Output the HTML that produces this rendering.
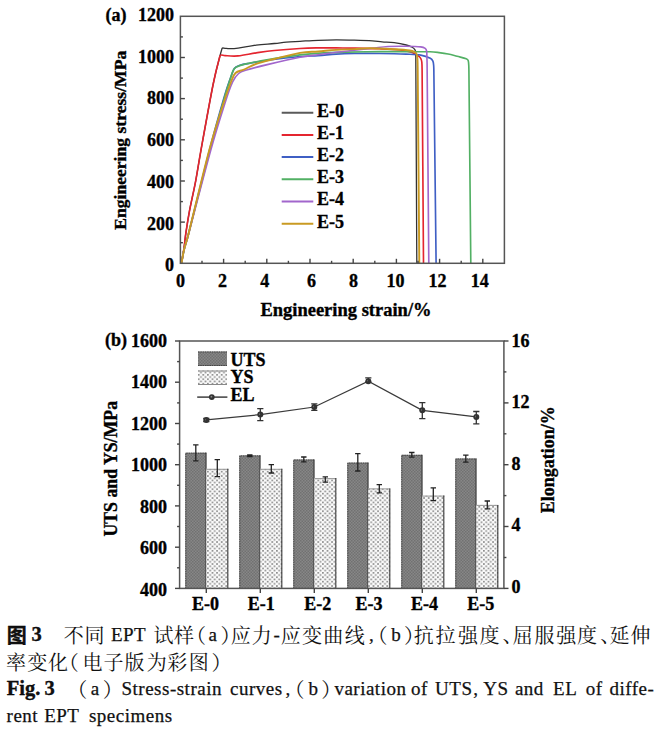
<!DOCTYPE html>
<html><head><meta charset="utf-8"><title>Fig. 3</title>
<style>
html,body{margin:0;padding:0;background:#fff;}
body{width:663px;height:732px;position:relative;overflow:hidden;}
svg{display:block;overflow:hidden;}
svg text[font-weight="bold"]{stroke:#000;stroke-width:0.35px;}
</style></head><body>
<svg width="663" height="616" viewBox="0 0 663 616" style="position:absolute;left:0;top:0">
<defs>
<pattern id="uts" width="3" height="3" patternUnits="userSpaceOnUse"><rect width="3" height="3" fill="#878787"/><rect x="0" y="0" width="1.5" height="1.5" fill="#717171"/><rect x="1.5" y="1.5" width="1.5" height="1.5" fill="#717171"/></pattern>
<pattern id="ys" width="4.6" height="4.4" patternUnits="userSpaceOnUse"><rect width="4.6" height="4.4" fill="#fbfbfb"/><rect x="0" y="0" width="1.75" height="1.65" fill="#8e8e8e"/><rect x="2.3" y="2.2" width="1.75" height="1.65" fill="#8e8e8e"/></pattern>
</defs>
<path d="M181.50 263.30 C181.95 260.55 183.19 253.60 184.00 248.00 C184.81 242.40 185.01 238.88 186.00 232.20 C186.99 225.52 187.75 220.15 189.50 210.90 C191.25 201.65 193.63 191.76 195.70 180.80 C197.77 169.84 198.50 163.84 201.00 150.00 C204.11 132.76 209.62 101.83 213.00 85.00 C215.60 72.07 218.25 62.80 219.80 56.50 C220.52 53.55 221.13 51.51 221.60 50.00 C221.87 49.11 221.79 48.41 222.40 48.10 C223.01 47.79 223.83 48.20 225.00 48.30 C226.31 48.41 227.58 48.73 229.70 48.70 C232.06 48.66 234.34 48.61 238.10 48.10 C242.87 47.45 249.68 45.93 256.20 45.10 C262.72 44.27 268.88 44.04 274.30 43.50 C279.71 42.96 281.67 42.50 286.30 42.10 C290.93 41.70 294.28 41.62 300.00 41.30 C305.72 40.98 311.58 40.55 318.10 40.30 C324.62 40.05 329.68 39.92 336.20 39.90 C342.72 39.88 347.78 40.02 354.30 40.20 C360.82 40.38 367.40 40.59 372.40 40.90 C376.78 41.17 378.19 41.58 382.10 41.90 C386.01 42.22 389.76 42.14 394.10 42.70 C398.44 43.26 402.94 44.17 406.20 45.00 C409.00 45.71 410.62 46.42 412.20 47.30 C413.70 48.14 414.37 48.87 415.00 49.90 C415.63 50.93 415.59 51.57 415.70 53.00 C415.84 54.82 415.78 56.85 415.80 60.00 C416.00 97.85 416.62 226.71 416.80 263.30" fill="none" stroke="#333333" stroke-width="1.3" stroke-linejoin="round"/>
<path d="M181.50 263.30 C181.95 260.55 183.19 253.60 184.00 248.00 C184.81 242.40 185.01 238.88 186.00 232.20 C186.99 225.52 187.75 220.15 189.50 210.90 C191.25 201.65 193.63 191.76 195.70 180.80 C197.77 169.84 198.50 163.84 201.00 150.00 C204.11 132.76 209.62 101.83 213.00 85.00 C215.60 72.07 218.31 61.90 219.80 56.50 C220.05 55.58 220.36 55.16 221.30 55.00 C222.24 54.84 223.32 55.51 225.00 55.60 C228.02 55.76 232.48 56.39 238.10 55.90 C243.72 55.41 249.68 53.87 256.20 52.90 C262.72 51.93 266.42 51.29 274.30 50.50 C282.18 49.71 292.12 48.97 300.00 48.50 C307.88 48.03 311.58 48.01 318.10 47.90 C324.62 47.79 330.33 47.86 336.20 47.90 C342.07 47.94 344.18 47.97 350.70 48.10 C358.58 48.26 371.13 48.46 380.00 48.80 C388.87 49.14 394.24 49.33 400.00 50.00 C405.48 50.63 408.71 51.44 412.00 52.50 C415.07 53.49 416.72 54.80 418.30 55.90 C419.66 56.84 420.17 57.50 420.80 58.60 C421.43 59.70 421.62 60.42 421.80 62.00 C422.03 64.05 422.07 66.40 422.10 70.00 C422.41 106.23 423.25 228.51 423.50 263.30" fill="none" stroke="#e4252f" stroke-width="1.65" stroke-linejoin="round"/>
<path d="M181.50 263.30 C181.95 260.91 182.83 254.91 184.00 250.00 C185.17 245.09 186.38 242.35 188.00 236.00 C192.59 218.00 202.93 175.20 209.50 150.00 C215.86 125.60 220.72 108.96 224.50 96.00 C226.89 87.80 228.74 82.95 230.50 78.00 C232.05 73.66 232.59 70.79 234.30 68.50 C236.01 66.21 237.21 66.24 240.00 65.30 C242.83 64.35 245.47 64.02 250.00 63.20 C255.09 62.28 260.03 61.31 268.30 60.20 C277.30 58.99 291.04 57.31 300.00 56.50 C308.12 55.77 311.58 56.13 318.10 55.70 C324.62 55.27 329.68 54.50 336.20 54.10 C342.72 53.70 346.42 53.61 354.30 53.50 C362.18 53.39 370.66 53.39 380.00 53.50 C389.34 53.61 398.87 53.81 406.20 54.10 C412.74 54.36 416.36 54.34 420.70 55.10 C425.04 55.86 428.10 57.20 430.30 58.30 C431.87 59.08 432.29 59.81 432.90 61.20 C433.51 62.59 433.54 63.82 433.70 66.00 C433.88 68.48 433.85 70.95 433.90 75.00 C434.33 110.51 435.70 229.41 436.10 263.30" fill="none" stroke="#3f5fc4" stroke-width="1.65" stroke-linejoin="round"/>
<path d="M181.50 263.30 C181.95 260.91 182.83 254.91 184.00 250.00 C185.17 245.09 186.35 242.34 188.00 236.00 C192.68 218.00 203.34 175.27 210.00 150.00 C216.47 125.44 221.22 108.83 225.00 95.60 C227.47 86.94 229.47 81.11 231.00 76.50 C231.99 73.53 232.60 71.66 233.50 70.00 C234.29 68.55 234.54 68.07 236.00 67.30 C237.91 66.29 240.33 65.30 244.10 64.40 C249.91 63.01 258.24 61.31 268.30 59.60 C278.36 57.89 289.96 56.11 300.00 54.90 C310.04 53.69 315.41 53.40 324.10 52.90 C332.79 52.40 338.24 52.33 348.30 52.10 C358.36 51.87 369.58 51.67 380.00 51.60 C390.42 51.53 397.20 51.66 406.20 51.70 C415.20 51.74 424.10 51.64 430.00 51.80 C434.06 51.91 435.74 52.20 439.00 52.60 C442.26 53.00 444.84 53.33 448.10 54.00 C451.36 54.67 453.84 55.45 457.10 56.30 C460.36 57.15 464.20 57.94 466.20 58.70 C467.33 59.13 467.79 59.36 468.20 60.50 C468.67 61.81 468.70 63.51 468.80 66.00 C468.94 69.51 468.94 73.70 469.00 80.00 C469.36 115.51 470.48 230.31 470.80 263.30" fill="none" stroke="#52b064" stroke-width="1.65" stroke-linejoin="round"/>
<path d="M181.50 263.30 C181.95 260.91 182.83 254.91 184.00 250.00 C185.17 245.09 186.30 242.33 188.00 236.00 C192.82 218.00 204.14 173.94 210.80 150.00 C216.72 128.71 221.08 115.24 225.00 103.00 C228.07 93.43 230.15 87.31 232.60 82.00 C234.56 77.75 236.10 75.66 238.60 73.50 C241.10 71.34 242.78 71.14 246.50 70.00 C251.85 68.36 258.67 66.69 268.30 64.40 C277.93 62.11 291.04 59.05 300.00 57.30 C308.08 55.73 311.58 55.60 318.10 54.70 C324.62 53.80 329.68 53.09 336.20 52.30 C342.72 51.51 347.78 51.02 354.30 50.30 C360.82 49.58 366.32 48.98 372.40 48.30 C378.48 47.62 382.02 46.86 388.10 46.50 C394.18 46.14 400.33 46.23 406.20 46.30 C412.07 46.37 417.28 46.52 420.70 46.90 C422.82 47.13 424.14 47.66 425.20 48.40 C426.26 49.14 426.34 49.70 426.60 51.00 C426.91 52.55 426.81 54.48 426.90 57.00 C426.99 59.52 427.07 61.40 427.10 65.00 C427.44 102.13 428.49 227.61 428.80 263.30" fill="none" stroke="#a266cc" stroke-width="1.65" stroke-linejoin="round"/>
<path d="M181.50 263.30 C181.95 260.91 182.83 254.91 184.00 250.00 C185.17 245.09 186.39 242.35 188.00 236.00 C192.55 218.00 202.89 173.94 209.30 150.00 C215.02 128.64 219.69 115.24 223.60 103.00 C226.65 93.45 228.86 87.40 231.00 82.00 C232.67 77.79 233.14 75.25 235.50 73.00 C237.86 70.75 240.37 71.16 244.10 69.50 C247.83 67.84 250.76 65.69 256.20 63.80 C261.64 61.91 266.42 60.96 274.30 59.00 C282.18 57.04 292.12 54.25 300.00 52.90 C307.88 51.55 311.58 52.04 318.10 51.50 C324.62 50.96 329.68 50.33 336.20 49.90 C342.72 49.47 348.22 49.39 354.30 49.10 C360.38 48.81 362.93 48.26 370.00 48.30 C377.16 48.34 386.94 48.90 394.10 49.30 C401.17 49.69 406.13 50.01 409.80 50.50 C412.00 50.79 413.24 51.28 414.50 52.00 C415.76 52.72 416.26 53.07 416.80 54.50 C417.34 55.94 417.36 57.51 417.50 60.00 C417.66 62.79 417.66 65.50 417.70 70.00 C418.02 106.59 419.01 228.51 419.30 263.30" fill="none" stroke="#c99a22" stroke-width="1.9" stroke-linejoin="round"/>
<rect x="180.4" y="16.3" width="324.0" height="247.0" fill="none" stroke="#555" stroke-width="1.5"/>
<line x1="202.0" y1="263.3" x2="202.0" y2="260.8" stroke="#444" stroke-width="1.4"/>
<line x1="223.6" y1="263.3" x2="223.6" y2="258.8" stroke="#444" stroke-width="1.4"/>
<line x1="245.2" y1="263.3" x2="245.2" y2="260.8" stroke="#444" stroke-width="1.4"/>
<line x1="266.8" y1="263.3" x2="266.8" y2="258.8" stroke="#444" stroke-width="1.4"/>
<line x1="288.4" y1="263.3" x2="288.4" y2="260.8" stroke="#444" stroke-width="1.4"/>
<line x1="310.0" y1="263.3" x2="310.0" y2="258.8" stroke="#444" stroke-width="1.4"/>
<line x1="331.6" y1="263.3" x2="331.6" y2="260.8" stroke="#444" stroke-width="1.4"/>
<line x1="353.2" y1="263.3" x2="353.2" y2="258.8" stroke="#444" stroke-width="1.4"/>
<line x1="374.8" y1="263.3" x2="374.8" y2="260.8" stroke="#444" stroke-width="1.4"/>
<line x1="396.4" y1="263.3" x2="396.4" y2="258.8" stroke="#444" stroke-width="1.4"/>
<line x1="418.0" y1="263.3" x2="418.0" y2="260.8" stroke="#444" stroke-width="1.4"/>
<line x1="439.6" y1="263.3" x2="439.6" y2="258.8" stroke="#444" stroke-width="1.4"/>
<line x1="461.2" y1="263.3" x2="461.2" y2="260.8" stroke="#444" stroke-width="1.4"/>
<line x1="482.8" y1="263.3" x2="482.8" y2="258.8" stroke="#444" stroke-width="1.4"/>
<line x1="180.4" y1="242.7" x2="182.9" y2="242.7" stroke="#444" stroke-width="1.4"/>
<line x1="180.4" y1="222.1" x2="184.9" y2="222.1" stroke="#444" stroke-width="1.4"/>
<line x1="180.4" y1="201.6" x2="182.9" y2="201.6" stroke="#444" stroke-width="1.4"/>
<line x1="180.4" y1="181.0" x2="184.9" y2="181.0" stroke="#444" stroke-width="1.4"/>
<line x1="180.4" y1="160.4" x2="182.9" y2="160.4" stroke="#444" stroke-width="1.4"/>
<line x1="180.4" y1="139.8" x2="184.9" y2="139.8" stroke="#444" stroke-width="1.4"/>
<line x1="180.4" y1="119.2" x2="182.9" y2="119.2" stroke="#444" stroke-width="1.4"/>
<line x1="180.4" y1="98.6" x2="184.9" y2="98.6" stroke="#444" stroke-width="1.4"/>
<line x1="180.4" y1="78.1" x2="182.9" y2="78.1" stroke="#444" stroke-width="1.4"/>
<line x1="180.4" y1="57.5" x2="184.9" y2="57.5" stroke="#444" stroke-width="1.4"/>
<line x1="180.4" y1="36.9" x2="182.9" y2="36.9" stroke="#444" stroke-width="1.4"/>
<text x="180.4" y="286.5" text-anchor="middle" font-family='"Liberation Serif", "Times New Roman", serif' font-weight="bold" font-size="18">0</text>
<text x="222.5" y="286.5" text-anchor="middle" font-family='"Liberation Serif", "Times New Roman", serif' font-weight="bold" font-size="18">2</text>
<text x="264.7" y="286.5" text-anchor="middle" font-family='"Liberation Serif", "Times New Roman", serif' font-weight="bold" font-size="18">4</text>
<text x="311.5" y="286.5" text-anchor="middle" font-family='"Liberation Serif", "Times New Roman", serif' font-weight="bold" font-size="18">6</text>
<text x="353.5" y="286.5" text-anchor="middle" font-family='"Liberation Serif", "Times New Roman", serif' font-weight="bold" font-size="18">8</text>
<text x="395.6" y="286.5" text-anchor="middle" font-family='"Liberation Serif", "Times New Roman", serif' font-weight="bold" font-size="18">10</text>
<text x="437.5" y="286.5" text-anchor="middle" font-family='"Liberation Serif", "Times New Roman", serif' font-weight="bold" font-size="18">12</text>
<text x="479.8" y="286.5" text-anchor="middle" font-family='"Liberation Serif", "Times New Roman", serif' font-weight="bold" font-size="18">14</text>
<text x="174" y="271.1" text-anchor="end" font-family='"Liberation Serif", "Times New Roman", serif' font-weight="bold" font-size="18">0</text>
<text x="174" y="229.5" text-anchor="end" font-family='"Liberation Serif", "Times New Roman", serif' font-weight="bold" font-size="18">200</text>
<text x="174" y="187.8" text-anchor="end" font-family='"Liberation Serif", "Times New Roman", serif' font-weight="bold" font-size="18">400</text>
<text x="174" y="146.1" text-anchor="end" font-family='"Liberation Serif", "Times New Roman", serif' font-weight="bold" font-size="18">600</text>
<text x="174" y="104.4" text-anchor="end" font-family='"Liberation Serif", "Times New Roman", serif' font-weight="bold" font-size="18">800</text>
<text x="174" y="62.8" text-anchor="end" font-family='"Liberation Serif", "Times New Roman", serif' font-weight="bold" font-size="18">1000</text>
<text x="174" y="21.1" text-anchor="end" font-family='"Liberation Serif", "Times New Roman", serif' font-weight="bold" font-size="18">1200</text>
<text x="105.5" y="20.5" font-family='"Liberation Serif", "Times New Roman", serif' font-weight="bold" font-size="18">(a)</text>
<text x="260.4" y="316.3" font-family='"Liberation Serif", "Times New Roman", serif' font-weight="bold" font-size="18.5">Engineering strain/%</text>
<text transform="translate(126.4,229.8) rotate(-90)" font-family='"Liberation Serif", "Times New Roman", serif' font-weight="bold" font-size="17.6">Engineering stress/MPa</text>
<line x1="281.7" y1="112.7" x2="313.3" y2="112.7" stroke="#5a5a5a" stroke-width="2"/>
<text x="317" y="116.5" font-family='"Liberation Serif", "Times New Roman", serif' font-weight="bold" font-size="18">E-0</text>
<line x1="281.7" y1="134.9" x2="313.3" y2="134.9" stroke="#e4252f" stroke-width="2"/>
<text x="317" y="138.7" font-family='"Liberation Serif", "Times New Roman", serif' font-weight="bold" font-size="18">E-1</text>
<line x1="281.7" y1="157.1" x2="313.3" y2="157.1" stroke="#3f5fc4" stroke-width="2"/>
<text x="317" y="160.9" font-family='"Liberation Serif", "Times New Roman", serif' font-weight="bold" font-size="18">E-2</text>
<line x1="281.7" y1="179.3" x2="313.3" y2="179.3" stroke="#52b064" stroke-width="2"/>
<text x="317" y="183.1" font-family='"Liberation Serif", "Times New Roman", serif' font-weight="bold" font-size="18">E-3</text>
<line x1="281.7" y1="201.5" x2="313.3" y2="201.5" stroke="#a266cc" stroke-width="2"/>
<text x="317" y="205.3" font-family='"Liberation Serif", "Times New Roman", serif' font-weight="bold" font-size="18">E-4</text>
<line x1="281.7" y1="223.7" x2="313.3" y2="223.7" stroke="#c99a22" stroke-width="2"/>
<text x="317" y="227.5" font-family='"Liberation Serif", "Times New Roman", serif' font-weight="bold" font-size="18">E-5</text>
<rect x="185.3" y="452.7" width="21.0" height="135.7" fill="url(#uts)"/>
<path d="M185.8 588.4V453.2H206.3" fill="none" stroke="#444" stroke-width="1" stroke-dasharray="1.5 0.8"/>
<path d="M206.0 452.7V588.4" fill="none" stroke="#333" stroke-width="1"/>
<rect x="206.3" y="468.8" width="22.0" height="119.6" fill="url(#ys)"/>
<path d="M206.3 469.3H228.3" fill="none" stroke="#999" stroke-width="1"/>
<path d="M227.8 468.8V588.4" fill="none" stroke="#3a3a3a" stroke-width="1.1"/>
<path d="M195.8 444.8V460.9M193.1 444.8H198.5M193.1 460.9H198.5" stroke="#222" stroke-width="1.3" fill="none"/>
<path d="M217.3 459.7V476.7M214.6 459.7H220.0M214.6 476.7H220.0" stroke="#222" stroke-width="1.3" fill="none"/>
<rect x="239.3" y="455.4" width="21.0" height="133.0" fill="url(#uts)"/>
<path d="M239.8 588.4V455.9H260.3" fill="none" stroke="#444" stroke-width="1" stroke-dasharray="1.5 0.8"/>
<path d="M260.0 455.4V588.4" fill="none" stroke="#333" stroke-width="1"/>
<rect x="260.3" y="468.8" width="22.0" height="119.6" fill="url(#ys)"/>
<path d="M260.3 469.3H282.3" fill="none" stroke="#999" stroke-width="1"/>
<path d="M281.8 468.8V588.4" fill="none" stroke="#3a3a3a" stroke-width="1.1"/>
<path d="M249.8 455.0V456.5M247.1 455.0H252.5M247.1 456.5H252.5" stroke="#222" stroke-width="1.3" fill="none"/>
<path d="M271.3 464.7V473.0M268.6 464.7H274.0M268.6 473.0H274.0" stroke="#222" stroke-width="1.3" fill="none"/>
<rect x="293.3" y="459.5" width="21.0" height="128.9" fill="url(#uts)"/>
<path d="M293.8 588.4V460.0H314.3" fill="none" stroke="#444" stroke-width="1" stroke-dasharray="1.5 0.8"/>
<path d="M314.0 459.5V588.4" fill="none" stroke="#333" stroke-width="1"/>
<rect x="314.3" y="478.1" width="22.0" height="110.3" fill="url(#ys)"/>
<path d="M314.3 478.6H336.3" fill="none" stroke="#999" stroke-width="1"/>
<path d="M335.8 478.1V588.4" fill="none" stroke="#3a3a3a" stroke-width="1.1"/>
<path d="M303.8 457.0V461.8M301.1 457.0H306.5M301.1 461.8H306.5" stroke="#222" stroke-width="1.3" fill="none"/>
<path d="M325.3 476.9V482.2M322.6 476.9H328.0M322.6 482.2H328.0" stroke="#222" stroke-width="1.3" fill="none"/>
<rect x="347.3" y="462.6" width="21.0" height="125.8" fill="url(#uts)"/>
<path d="M347.8 588.4V463.1H368.3" fill="none" stroke="#444" stroke-width="1" stroke-dasharray="1.5 0.8"/>
<path d="M368.0 462.6V588.4" fill="none" stroke="#333" stroke-width="1"/>
<rect x="368.3" y="488.4" width="22.0" height="100.0" fill="url(#ys)"/>
<path d="M368.3 488.9H390.3" fill="none" stroke="#999" stroke-width="1"/>
<path d="M389.8 488.4V588.4" fill="none" stroke="#3a3a3a" stroke-width="1.1"/>
<path d="M357.8 453.6V471.0M355.1 453.6H360.5M355.1 471.0H360.5" stroke="#222" stroke-width="1.3" fill="none"/>
<path d="M379.3 484.7V492.9M376.6 484.7H382.0M376.6 492.9H382.0" stroke="#222" stroke-width="1.3" fill="none"/>
<rect x="401.3" y="454.8" width="21.0" height="133.6" fill="url(#uts)"/>
<path d="M401.8 588.4V455.3H422.3" fill="none" stroke="#444" stroke-width="1" stroke-dasharray="1.5 0.8"/>
<path d="M422.0 454.8V588.4" fill="none" stroke="#333" stroke-width="1"/>
<rect x="422.3" y="495.6" width="22.0" height="92.8" fill="url(#ys)"/>
<path d="M422.3 496.1H444.3" fill="none" stroke="#999" stroke-width="1"/>
<path d="M443.8 495.6V588.4" fill="none" stroke="#3a3a3a" stroke-width="1.1"/>
<path d="M411.8 452.5V457.2M409.1 452.5H414.5M409.1 457.2H414.5" stroke="#222" stroke-width="1.3" fill="none"/>
<path d="M433.3 487.9V500.6M430.6 487.9H436.0M430.6 500.6H436.0" stroke="#222" stroke-width="1.3" fill="none"/>
<rect x="455.3" y="458.5" width="21.0" height="129.9" fill="url(#uts)"/>
<path d="M455.8 588.4V459.0H476.3" fill="none" stroke="#444" stroke-width="1" stroke-dasharray="1.5 0.8"/>
<path d="M476.0 458.5V588.4" fill="none" stroke="#333" stroke-width="1"/>
<rect x="476.3" y="504.9" width="22.0" height="83.5" fill="url(#ys)"/>
<path d="M476.3 505.4H498.3" fill="none" stroke="#999" stroke-width="1"/>
<path d="M497.8 504.9V588.4" fill="none" stroke="#3a3a3a" stroke-width="1.1"/>
<path d="M465.8 455.1V462.1M463.1 455.1H468.5M463.1 462.1H468.5" stroke="#222" stroke-width="1.3" fill="none"/>
<path d="M487.3 501.0V508.8M484.6 501.0H490.0M484.6 508.8H490.0" stroke="#222" stroke-width="1.3" fill="none"/>
<polyline points="206.3,419.9 260.3,414.6 314.3,407.0 368.3,381.2 422.3,410.3 476.3,416.9" fill="none" stroke="#3a3a3a" stroke-width="1.25"/>
<circle cx="206.3" cy="419.9" r="3" fill="#333"/><circle cx="205.9" cy="419.5" r="0.9" fill="#8a8a8a"/>
<path d="M206.3 418.5V421.5M203.2 418.5H209.4M203.2 421.5H209.4" stroke="#333" stroke-width="1.3" fill="none"/>
<circle cx="260.3" cy="414.6" r="3" fill="#333"/><circle cx="259.9" cy="414.2" r="0.9" fill="#8a8a8a"/>
<path d="M260.3 408.6V420.7M257.2 408.6H263.4M257.2 420.7H263.4" stroke="#333" stroke-width="1.3" fill="none"/>
<circle cx="314.3" cy="407.0" r="3" fill="#333"/><circle cx="313.9" cy="406.6" r="0.9" fill="#8a8a8a"/>
<path d="M314.3 403.8V410.4M311.2 403.8H317.4M311.2 410.4H317.4" stroke="#333" stroke-width="1.3" fill="none"/>
<circle cx="368.3" cy="381.2" r="3" fill="#333"/><circle cx="367.9" cy="380.8" r="0.9" fill="#8a8a8a"/>
<path d="M368.3 377.9V382.1M365.2 377.9H371.4M365.2 382.1H371.4" stroke="#333" stroke-width="1.3" fill="none"/>
<circle cx="422.3" cy="410.3" r="3" fill="#333"/><circle cx="421.9" cy="409.9" r="0.9" fill="#8a8a8a"/>
<path d="M422.3 402.7V418.7M419.2 402.7H425.4M419.2 418.7H425.4" stroke="#333" stroke-width="1.3" fill="none"/>
<circle cx="476.3" cy="416.9" r="3" fill="#333"/><circle cx="475.9" cy="416.5" r="0.9" fill="#8a8a8a"/>
<path d="M476.3 411.5V423.8M473.2 411.5H479.4M473.2 423.8H479.4" stroke="#333" stroke-width="1.3" fill="none"/>
<rect x="179.6" y="341.0" width="324.3" height="247.4" fill="none" stroke="#555" stroke-width="1.5"/>
<line x1="175.0" y1="588.4" x2="179.6" y2="588.4" stroke="#444" stroke-width="1.4"/>
<line x1="177.1" y1="567.8" x2="179.6" y2="567.8" stroke="#444" stroke-width="1.4"/>
<line x1="175.0" y1="547.2" x2="179.6" y2="547.2" stroke="#444" stroke-width="1.4"/>
<line x1="177.1" y1="526.5" x2="179.6" y2="526.5" stroke="#444" stroke-width="1.4"/>
<line x1="175.0" y1="505.9" x2="179.6" y2="505.9" stroke="#444" stroke-width="1.4"/>
<line x1="177.1" y1="485.3" x2="179.6" y2="485.3" stroke="#444" stroke-width="1.4"/>
<line x1="175.0" y1="464.7" x2="179.6" y2="464.7" stroke="#444" stroke-width="1.4"/>
<line x1="177.1" y1="444.1" x2="179.6" y2="444.1" stroke="#444" stroke-width="1.4"/>
<line x1="175.0" y1="423.5" x2="179.6" y2="423.5" stroke="#444" stroke-width="1.4"/>
<line x1="177.1" y1="402.9" x2="179.6" y2="402.9" stroke="#444" stroke-width="1.4"/>
<line x1="175.0" y1="382.2" x2="179.6" y2="382.2" stroke="#444" stroke-width="1.4"/>
<line x1="177.1" y1="361.6" x2="179.6" y2="361.6" stroke="#444" stroke-width="1.4"/>
<line x1="175.0" y1="341.0" x2="179.6" y2="341.0" stroke="#444" stroke-width="1.4"/>
<line x1="503.9" y1="588.4" x2="508.5" y2="588.4" stroke="#444" stroke-width="1.4"/>
<line x1="503.9" y1="557.5" x2="506.4" y2="557.5" stroke="#444" stroke-width="1.4"/>
<line x1="503.9" y1="526.5" x2="508.5" y2="526.5" stroke="#444" stroke-width="1.4"/>
<line x1="503.9" y1="495.6" x2="506.4" y2="495.6" stroke="#444" stroke-width="1.4"/>
<line x1="503.9" y1="464.7" x2="508.5" y2="464.7" stroke="#444" stroke-width="1.4"/>
<line x1="503.9" y1="433.8" x2="506.4" y2="433.8" stroke="#444" stroke-width="1.4"/>
<line x1="503.9" y1="402.9" x2="508.5" y2="402.9" stroke="#444" stroke-width="1.4"/>
<line x1="503.9" y1="371.9" x2="506.4" y2="371.9" stroke="#444" stroke-width="1.4"/>
<line x1="503.9" y1="341.0" x2="508.5" y2="341.0" stroke="#444" stroke-width="1.4"/>
<line x1="206.3" y1="588.4" x2="206.3" y2="593.0" stroke="#444" stroke-width="1.4"/>
<line x1="260.3" y1="588.4" x2="260.3" y2="593.0" stroke="#444" stroke-width="1.4"/>
<line x1="314.3" y1="588.4" x2="314.3" y2="593.0" stroke="#444" stroke-width="1.4"/>
<line x1="368.3" y1="588.4" x2="368.3" y2="593.0" stroke="#444" stroke-width="1.4"/>
<line x1="422.3" y1="588.4" x2="422.3" y2="593.0" stroke="#444" stroke-width="1.4"/>
<line x1="476.3" y1="588.4" x2="476.3" y2="593.0" stroke="#444" stroke-width="1.4"/>
<text x="167" y="595.9" text-anchor="end" font-family='"Liberation Serif", "Times New Roman", serif' font-weight="bold" font-size="18">400</text>
<text x="167" y="554.4" text-anchor="end" font-family='"Liberation Serif", "Times New Roman", serif' font-weight="bold" font-size="18">600</text>
<text x="167" y="512.8" text-anchor="end" font-family='"Liberation Serif", "Times New Roman", serif' font-weight="bold" font-size="18">800</text>
<text x="167" y="471.3" text-anchor="end" font-family='"Liberation Serif", "Times New Roman", serif' font-weight="bold" font-size="18">1000</text>
<text x="167" y="429.8" text-anchor="end" font-family='"Liberation Serif", "Times New Roman", serif' font-weight="bold" font-size="18">1200</text>
<text x="167" y="388.2" text-anchor="end" font-family='"Liberation Serif", "Times New Roman", serif' font-weight="bold" font-size="18">1400</text>
<text x="167" y="346.7" text-anchor="end" font-family='"Liberation Serif", "Times New Roman", serif' font-weight="bold" font-size="18">1600</text>
<text x="511.5" y="592.5" font-family='"Liberation Serif", "Times New Roman", serif' font-weight="bold" font-size="18">0</text>
<text x="511.5" y="531.0" font-family='"Liberation Serif", "Times New Roman", serif' font-weight="bold" font-size="18">4</text>
<text x="511.5" y="469.6" font-family='"Liberation Serif", "Times New Roman", serif' font-weight="bold" font-size="18">8</text>
<text x="511.5" y="408.2" font-family='"Liberation Serif", "Times New Roman", serif' font-weight="bold" font-size="18">12</text>
<text x="511.5" y="346.7" font-family='"Liberation Serif", "Times New Roman", serif' font-weight="bold" font-size="18">16</text>
<text x="191.9" y="610" font-family='"Liberation Serif", "Times New Roman", serif' font-weight="bold" font-size="18">E-0</text>
<text x="247.8" y="610" font-family='"Liberation Serif", "Times New Roman", serif' font-weight="bold" font-size="18">E-1</text>
<text x="304.2" y="610" font-family='"Liberation Serif", "Times New Roman", serif' font-weight="bold" font-size="18">E-2</text>
<text x="355.4" y="610" font-family='"Liberation Serif", "Times New Roman", serif' font-weight="bold" font-size="18">E-3</text>
<text x="411.0" y="610" font-family='"Liberation Serif", "Times New Roman", serif' font-weight="bold" font-size="18">E-4</text>
<text x="467.3" y="610" font-family='"Liberation Serif", "Times New Roman", serif' font-weight="bold" font-size="18">E-5</text>
<text x="105" y="346" font-family='"Liberation Serif", "Times New Roman", serif' font-weight="bold" font-size="18">(b)</text>
<text transform="translate(116.6,536.6) rotate(-90)" font-family='"Liberation Serif", "Times New Roman", serif' font-weight="bold" font-size="17.8">UTS and YS/MPa</text>
<text transform="translate(553.6,513.2) rotate(-90)" font-family='"Liberation Serif", "Times New Roman", serif' font-weight="bold" font-size="18">Elongation/%</text>
<rect x="198" y="351.5" width="29" height="14.5" fill="url(#uts)"/>
<path d="M198 352H227M198 365.5H227" stroke="#444" stroke-width="1" stroke-dasharray="1.5 0.8" fill="none"/>
<rect x="198" y="370.5" width="29" height="14.5" fill="url(#ys)"/>
<path d="M198 371H227M198 384.5H227" stroke="#888" stroke-width="1" fill="none"/>
<line x1="197.2" y1="397.1" x2="227.4" y2="397.1" stroke="#333" stroke-width="1.4"/>
<circle cx="211.8" cy="397.1" r="2.9" fill="#333"/><circle cx="211.4" cy="396.7" r="0.9" fill="#8a8a8a"/>
<text x="230.5" y="365.5" font-family='"Liberation Serif", "Times New Roman", serif' font-weight="bold" font-size="18">UTS</text>
<text x="230.5" y="383.3" font-family='"Liberation Serif", "Times New Roman", serif' font-weight="bold" font-size="18">YS</text>
<text x="230.5" y="400.8" font-family='"Liberation Serif", "Times New Roman", serif' font-weight="bold" font-size="18">EL</text>
</svg>
<svg width="663" height="122" viewBox="0 610 663 122" style="position:absolute;left:0;top:610px">
<text x="6.8" y="643.0" font-family='"Noto Sans CJK SC", sans-serif' font-size="20" font-weight="bold" fill="#111">图</text>
<text x="31.6" y="641.4" font-family='"Liberation Serif", "Noto Serif CJK SC", serif' font-size="20.5" font-weight="bold" fill="#111">3</text>
<text x="63.8" y="643.0" font-family='"Noto Serif CJK SC", serif' font-size="20" fill="#111">不</text>
<text x="84.5" y="643.0" font-family='"Noto Serif CJK SC", serif' font-size="20" fill="#111">同</text>
<text x="110.9" y="641.4" font-family='"Liberation Serif", "Noto Serif CJK SC", serif' font-size="19" letter-spacing="0.5" stroke="#111" stroke-width="0.25" fill="#111">EPT</text>
<text x="153.5" y="643.0" font-family='"Noto Serif CJK SC", serif' font-size="20" fill="#111">试</text>
<text x="174.0" y="643.0" font-family='"Noto Serif CJK SC", serif' font-size="20" fill="#111">样</text>
<text x="186.1" y="643.0" font-family='"Noto Serif CJK SC", serif' font-size="20" fill="#111">（</text>
<text x="208.4" y="641.4" font-family='"Liberation Serif", "Noto Serif CJK SC", serif' font-size="19" stroke="#111" stroke-width="0.25" fill="#111">a</text>
<text x="220.5" y="643.0" font-family='"Noto Serif CJK SC", serif' font-size="20" fill="#111">）</text>
<text x="230.7" y="643.0" font-family='"Noto Serif CJK SC", serif' font-size="20" fill="#111">应</text>
<text x="251.8" y="643.0" font-family='"Noto Serif CJK SC", serif' font-size="20" fill="#111">力</text>
<text x="273.5" y="641.4" font-family='"Liberation Serif", "Noto Serif CJK SC", serif' font-size="19" stroke="#111" stroke-width="0.25" fill="#111">-</text>
<text x="280.8" y="643.0" font-family='"Noto Serif CJK SC", serif' font-size="20" fill="#111">应</text>
<text x="301.9" y="643.0" font-family='"Noto Serif CJK SC", serif' font-size="20" fill="#111">变</text>
<text x="323.2" y="643.0" font-family='"Noto Serif CJK SC", serif' font-size="20" fill="#111">曲</text>
<text x="344.7" y="643.0" font-family='"Noto Serif CJK SC", serif' font-size="20" fill="#111">线</text>
<text x="368.9" y="641.4" font-family='"Liberation Serif", "Noto Serif CJK SC", serif' font-size="19" stroke="#111" stroke-width="0.25" fill="#111">,</text>
<text x="367.4" y="643.0" font-family='"Noto Serif CJK SC", serif' font-size="20" fill="#111">（</text>
<text x="391.3" y="641.4" font-family='"Liberation Serif", "Noto Serif CJK SC", serif' font-size="19" stroke="#111" stroke-width="0.25" fill="#111">b</text>
<text x="404.1" y="643.0" font-family='"Noto Serif CJK SC", serif' font-size="20" fill="#111">）</text>
<text x="413.8" y="643.0" font-family='"Noto Serif CJK SC", serif' font-size="20" fill="#111">抗</text>
<text x="435.5" y="643.0" font-family='"Noto Serif CJK SC", serif' font-size="20" fill="#111">拉</text>
<text x="457.9" y="643.0" font-family='"Noto Serif CJK SC", serif' font-size="20" fill="#111">强</text>
<text x="479.6" y="643.0" font-family='"Noto Serif CJK SC", serif' font-size="20" fill="#111">度</text>
<text x="502.5" y="643.0" font-family='"Noto Serif CJK SC", serif' font-size="20" fill="#111">、</text>
<text x="512.8" y="643.0" font-family='"Noto Serif CJK SC", serif' font-size="20" fill="#111">屈</text>
<text x="534.5" y="643.0" font-family='"Noto Serif CJK SC", serif' font-size="20" fill="#111">服</text>
<text x="556.2" y="643.0" font-family='"Noto Serif CJK SC", serif' font-size="20" fill="#111">强</text>
<text x="576.9" y="643.0" font-family='"Noto Serif CJK SC", serif' font-size="20" fill="#111">度</text>
<text x="600.2" y="643.0" font-family='"Noto Serif CJK SC", serif' font-size="20" fill="#111">、</text>
<text x="609.5" y="643.0" font-family='"Noto Serif CJK SC", serif' font-size="20" fill="#111">延</text>
<text x="630.5" y="643.0" font-family='"Noto Serif CJK SC", serif' font-size="20" fill="#111">伸</text>
<text x="6.0" y="670.0" font-family='"Noto Serif CJK SC", serif' font-size="20" fill="#111">率</text>
<text x="27.3" y="670.0" font-family='"Noto Serif CJK SC", serif' font-size="20" fill="#111">变</text>
<text x="47.9" y="670.0" font-family='"Noto Serif CJK SC", serif' font-size="20" fill="#111">化</text>
<text x="58.8" y="670.0" font-family='"Noto Serif CJK SC", serif' font-size="20" fill="#111">（</text>
<text x="82.5" y="670.0" font-family='"Noto Serif CJK SC", serif' font-size="20" fill="#111">电</text>
<text x="103.4" y="670.0" font-family='"Noto Serif CJK SC", serif' font-size="20" fill="#111">子</text>
<text x="124.5" y="670.0" font-family='"Noto Serif CJK SC", serif' font-size="20" fill="#111">版</text>
<text x="146.8" y="670.0" font-family='"Noto Serif CJK SC", serif' font-size="20" fill="#111">为</text>
<text x="167.3" y="670.0" font-family='"Noto Serif CJK SC", serif' font-size="20" fill="#111">彩</text>
<text x="188.7" y="670.0" font-family='"Noto Serif CJK SC", serif' font-size="20" fill="#111">图</text>
<text x="211.4" y="670.0" font-family='"Noto Serif CJK SC", serif' font-size="20" fill="#111">）</text>
<text x="6.8" y="694.8" font-family='"Liberation Serif", "Noto Serif CJK SC", serif' font-size="20.5" font-weight="bold" fill="#111">Fig.</text>
<text x="44.6" y="694.8" font-family='"Liberation Serif", "Noto Serif CJK SC", serif' font-size="20.5" font-weight="bold" fill="#111">3</text>
<text x="67.3" y="697.0" font-family='"Noto Serif CJK SC", serif' font-size="20" fill="#111">（</text>
<text x="102.8" y="697.0" font-family='"Noto Serif CJK SC", serif' font-size="20" fill="#111">）</text>
<text x="284.4" y="697.0" font-family='"Noto Serif CJK SC", serif' font-size="20" fill="#111">（</text>
<text x="321.3" y="697.0" font-family='"Noto Serif CJK SC", serif' font-size="20" fill="#111">）</text>
<text x="90.7" y="694.8" font-family='"Liberation Serif", "Noto Serif CJK SC", serif' font-size="19" letter-spacing="0.5" stroke="#111" stroke-width="0.25" fill="#111">a</text>
<text x="121.5" y="694.8" font-family='"Liberation Serif", "Noto Serif CJK SC", serif' font-size="19" letter-spacing="0.5" stroke="#111" stroke-width="0.25" fill="#111">Stress-strain</text>
<text x="230.0" y="694.8" font-family='"Liberation Serif", "Noto Serif CJK SC", serif' font-size="19" letter-spacing="0.5" stroke="#111" stroke-width="0.25" fill="#111">curves</text>
<text x="285.5" y="694.8" font-family='"Liberation Serif", "Noto Serif CJK SC", serif' font-size="19" letter-spacing="0.5" stroke="#111" stroke-width="0.25" fill="#111">,</text>
<text x="308.4" y="694.8" font-family='"Liberation Serif", "Noto Serif CJK SC", serif' font-size="19" letter-spacing="0.5" stroke="#111" stroke-width="0.25" fill="#111">b</text>
<text x="334.4" y="694.8" font-family='"Liberation Serif", "Noto Serif CJK SC", serif' font-size="19" letter-spacing="0.5" stroke="#111" stroke-width="0.25" fill="#111">variation</text>
<text x="411.0" y="694.8" font-family='"Liberation Serif", "Noto Serif CJK SC", serif' font-size="19" letter-spacing="0.5" stroke="#111" stroke-width="0.25" fill="#111">of</text>
<text x="435.1" y="694.8" font-family='"Liberation Serif", "Noto Serif CJK SC", serif' font-size="19" letter-spacing="0.5" stroke="#111" stroke-width="0.25" fill="#111">UTS</text>
<text x="473.3" y="694.8" font-family='"Liberation Serif", "Noto Serif CJK SC", serif' font-size="19" letter-spacing="0.5" stroke="#111" stroke-width="0.25" fill="#111">,</text>
<text x="483.3" y="694.8" font-family='"Liberation Serif", "Noto Serif CJK SC", serif' font-size="19" letter-spacing="0.5" stroke="#111" stroke-width="0.25" fill="#111">YS</text>
<text x="514.9" y="694.8" font-family='"Liberation Serif", "Noto Serif CJK SC", serif' font-size="19" letter-spacing="0.5" stroke="#111" stroke-width="0.25" fill="#111">and</text>
<text x="553.1" y="694.8" font-family='"Liberation Serif", "Noto Serif CJK SC", serif' font-size="19" letter-spacing="0.5" stroke="#111" stroke-width="0.25" fill="#111">EL</text>
<text x="585.7" y="694.8" font-family='"Liberation Serif", "Noto Serif CJK SC", serif' font-size="19" letter-spacing="0.5" stroke="#111" stroke-width="0.25" fill="#111">of</text>
<text x="609.4" y="694.8" font-family='"Liberation Serif", "Noto Serif CJK SC", serif' font-size="19" letter-spacing="0.5" stroke="#111" stroke-width="0.25" fill="#111">diffe-</text>
<text x="6.6" y="721.9" font-family='"Liberation Serif", "Noto Serif CJK SC", serif' font-size="19" letter-spacing="0.5" stroke="#111" stroke-width="0.25" fill="#111">rent</text>
<text x="44.2" y="721.9" font-family='"Liberation Serif", "Noto Serif CJK SC", serif' font-size="19" letter-spacing="0.5" stroke="#111" stroke-width="0.25" fill="#111">EPT</text>
<text x="88.9" y="721.9" font-family='"Liberation Serif", "Noto Serif CJK SC", serif' font-size="19" letter-spacing="0.5" stroke="#111" stroke-width="0.25" fill="#111">specimens</text>
</svg>
</body></html>
